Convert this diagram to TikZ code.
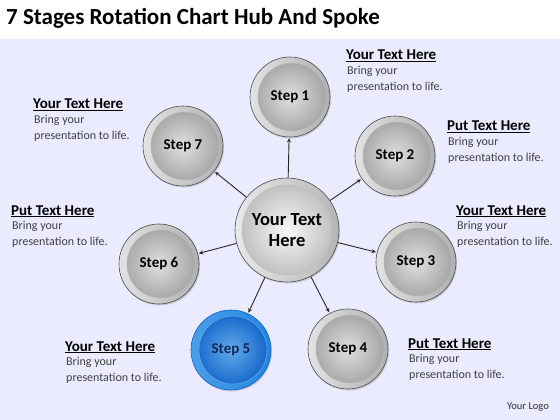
\documentclass[tikz,border=0pt]{standalone}
\usepackage{fontspec}
\setmainfont{Carlito}
\usepackage{tikz}
\usetikzlibrary{shapes.geometric, arrows, positioning, shadows}
\definecolor{stepblue}{RGB}{30,135,225}
\definecolor{deepblue}{RGB}{15,95,200}
\definecolor{navytext}{RGB}{20,40,90}
\tikzstyle{stepnode} = [circle, minimum size=80pt, inner sep=0pt, draw=gray!60!black, line width=0.6pt, left color=gray!22, right color=gray!62, font=\fontsize{15}{17}\selectfont\bfseries, drop shadow={shadow xshift=1pt, shadow yshift=-1.5pt, opacity=0.3},
  path picture={\shadedraw[inner color=gray!25, outer color=gray!75, draw=gray!55, line width=0.5pt] ([xshift=2pt]path picture bounding box.center) circle (34pt);}]
\tikzstyle{bluestep} = [stepnode, draw=deepblue, left color=stepblue!80, right color=stepblue, text=navytext,
  path picture={\shadedraw[inner color=stepblue!70, outer color=deepblue, draw=stepblue!70, line width=0.5pt] ([xshift=2pt]path picture bounding box.center) circle (34pt);}]
\tikzstyle{hubnode} = [circle, minimum size=104pt, inner sep=0pt, draw=gray!60!black, line width=0.6pt, left color=gray!18, right color=gray!58, align=center, font=\fontsize{18.5}{21}\selectfont\bfseries, drop shadow={shadow xshift=1pt, shadow yshift=-1.5pt, opacity=0.3},
  path picture={\shadedraw[inner color=gray!6, outer color=gray!55, draw=gray!50, line width=0.5pt] (path picture bounding box.center) circle (45pt);}]
\tikzstyle{heading} = [anchor=base west, inner sep=0pt, font=\fontsize{15}{17}\selectfont\bfseries]
\tikzstyle{blurb} = [inner sep=0pt, align=left, text=black!75, font=\fontsize{12}{15.5}\selectfont]
\tikzstyle{arrow} = [line width=0.9pt, ->, >=stealth, shorten >=1pt, draw=black!85]

\begin{document}
\begin{tikzpicture}[x=1pt, y=-1pt]
  \useasboundingbox (0,0) rectangle (560,420);
  \fill[white] (0,0) rectangle (560,420);
  \shade[left color=blue!8!white, middle color=white, right color=blue!8!white] (0,40) rectangle (560,420);

  \node[anchor=base west, inner sep=0pt, font=\fontsize{23}{26}\selectfont\bfseries] (title) at (6,25) {7 Stages Rotation Chart Hub And Spoke};

  % hub and steps
  \node[hubnode] (hub) at (287,230) {Your Text\\Here};
  \node[stepnode] (step1) at (290,97) {Step 1};
  \node[stepnode] (step2) at (395,156) {Step 2};
  \node[stepnode] (step3) at (416,262) {Step 3};
  \node[stepnode] (step4) at (348,349) {Step 4};
  \node[bluestep] (step5) at (231,350) {Step 5};
  \node[stepnode] (step6) at (159,264) {Step 6};
  \node[stepnode] (step7) at (183,146) {Step 7};

  \foreach \s in {1,...,7}
    \draw[arrow] (hub) -- (step\s);

  % text blocks
  \node[heading] (head1) at (346,60) {\underline{Your Text Here}};
  \node[blurb, below right=4pt and 1pt of head1.south west] (body1) {Bring your\\presentation to life.};
  \node[heading] (head2) at (447,131) {\underline{Put Text Here}};
  \node[blurb, below right=4pt and 1pt of head2.south west] (body2) {Bring your\\presentation to life.};
  \node[heading] (head3) at (456,215) {\underline{Your Text Here}};
  \node[blurb, below right=4pt and 1pt of head3.south west] (body3) {Bring your\\presentation to life.};
  \node[heading] (head4) at (408,348) {\underline{Put Text Here}};
  \node[blurb, below right=4pt and 1pt of head4.south west] (body4) {Bring your\\presentation to life.};
  \node[heading] (head5) at (65,351) {\underline{Your Text Here}};
  \node[blurb, below right=4pt and 1pt of head5.south west] (body5) {Bring your\\presentation to life.};
  \node[heading] (head6) at (11,215) {\underline{Put Text Here}};
  \node[blurb, below right=4pt and 1pt of head6.south west] (body6) {Bring your\\presentation to life.};
  \node[heading] (head7) at (33,109) {\underline{Your Text Here}};
  \node[blurb, below right=4pt and 1pt of head7.south west] (body7) {Bring your\\presentation to life.};

  \node[font=\fontsize{10.5}{12}\selectfont, text=black!80] (logo) at (528,407) {Your Logo};
\end{tikzpicture}
\end{document}
